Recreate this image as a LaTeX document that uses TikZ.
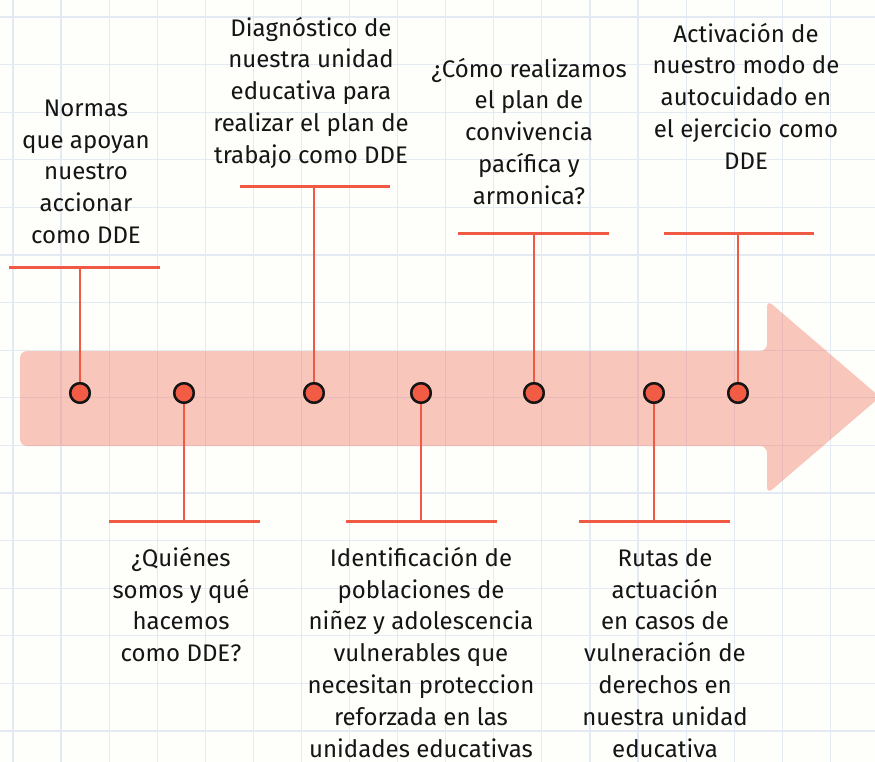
\documentclass[tikz,border=0pt]{standalone}
\usepackage{fontspec}
\setmainfont{Fira Sans}
\definecolor{bgcol}{HTML}{FEFEFA}
\definecolor{gridcol}{HTML}{E4EAF4}
\definecolor{arrowcol}{HTML}{EF6B55}
\definecolor{stemcol}{HTML}{F05A44}
\definecolor{dotcol}{HTML}{F25C45}
\definecolor{inkcol}{HTML}{151515}
\begin{document}
\begin{tikzpicture}[x=1pt,y=-1pt,
  gridline/.style={draw=gridcol,line width=1.2pt},
  stemline/.style={draw=stemcol,line width=2.6pt},
  barline/.style={draw=stemcol,line width=3pt},
  dotnode/.style={circle,fill=dotcol,draw=inkcol,line width=2.4pt,minimum size=19.5pt,inner sep=0pt},
  label/.style={anchor=north,align=center,inner sep=0pt,text=inkcol,font=\fontsize{24}{31.8}\selectfont}]
\useasboundingbox (0,0) rectangle (875,762);
\fill[bgcol] (0,0) rectangle (875,762);
% grid
\foreach \k in {0,...,17} {\draw[gridline] ({13+48.08*\k},0) -- ({13+48.08*\k},762);}
\foreach \k in {0,...,15} {\draw[gridline] (0,{17+47.6*\k}) -- (875,{17+47.6*\k});}
% arrow
\fill[arrowcol,fill opacity=0.38,rounded corners=7pt]
  (20,351) -- (767,351) -- (767,300) -- (880,397) -- (767,494) -- (767,446) -- (20,446) -- cycle;
% dots
\node[dotnode] (d1) at (80,393) {};
\node[dotnode] (d2) at (184,393) {};
\node[dotnode] (d3) at (314,393) {};
\node[dotnode] (d4) at (421,393) {};
\node[dotnode] (d5) at (534,393) {};
\node[dotnode] (d6) at (654,393) {};
\node[dotnode] (d7) at (738,393) {};
% bar coordinates
\coordinate (b1) at (80,267);  \coordinate (b1l) at (9,267);   \coordinate (b1r) at (160,267);
\coordinate (b2) at (184,521); \coordinate (b2l) at (109,521); \coordinate (b2r) at (260,521);
\coordinate (b3) at (314,187); \coordinate (b3l) at (240,187); \coordinate (b3r) at (390,187);
\coordinate (b4) at (421,521); \coordinate (b4l) at (346,521); \coordinate (b4r) at (497,521);
\coordinate (b5) at (534,233); \coordinate (b5l) at (458,233); \coordinate (b5r) at (609,233);
\coordinate (b6) at (654,521); \coordinate (b6l) at (579,521); \coordinate (b6r) at (730,521);
\coordinate (b7) at (738,233); \coordinate (b7l) at (664,233); \coordinate (b7r) at (814,233);
% stems and bars
\foreach \i in {1,...,7} {
  \draw[stemline] (d\i.center) -- (b\i);
  \draw[barline] (b\i l) -- (b\i r);
}
% redraw dots on top
\foreach \i/\x in {1/80,2/184,3/314,4/421,5/534,6/654,7/738} {
  \node[dotnode] at (\x,393) {};
}
% labels
\node[label] (t1) at (86,92) {\rule{0pt}{24pt}Normas\\que apoyan\\nuestro\\accionar\\como DDE};
\node[label] (t2) at (311,12) {\rule{0pt}{24pt}Diagnóstico de\\nuestra unidad\\educativa para\\realizar el plan de\\trabajo como DDE};
\node[label] (t3) at (529,53) {\rule{0pt}{24pt}¿Cómo realizamos\\el plan de\\convivencia\\pacífica y\\armonica?};
\node[label] (t4) at (746,18) {\rule{0pt}{24pt}Activación de\\nuestro modo de\\autocuidado en\\el ejercicio como\\DDE};
\node[label] (t5) at (181,542) {\rule{0pt}{24pt}¿Quiénes\\somos y qué\\hacemos\\como DDE?};
\node[label] (t6) at (421,542) {\rule{0pt}{24pt}Identificación de\\poblaciones de\\niñez y adolescencia\\vulnerables que\\necesitan proteccion\\reforzada en las\\unidades educativas};
\node[label] (t7) at (665,542) {\rule{0pt}{24pt}Rutas de\\actuación\\en casos de\\vulneración de\\derechos en\\nuestra unidad\\educativa};
\end{tikzpicture}
\end{document}
